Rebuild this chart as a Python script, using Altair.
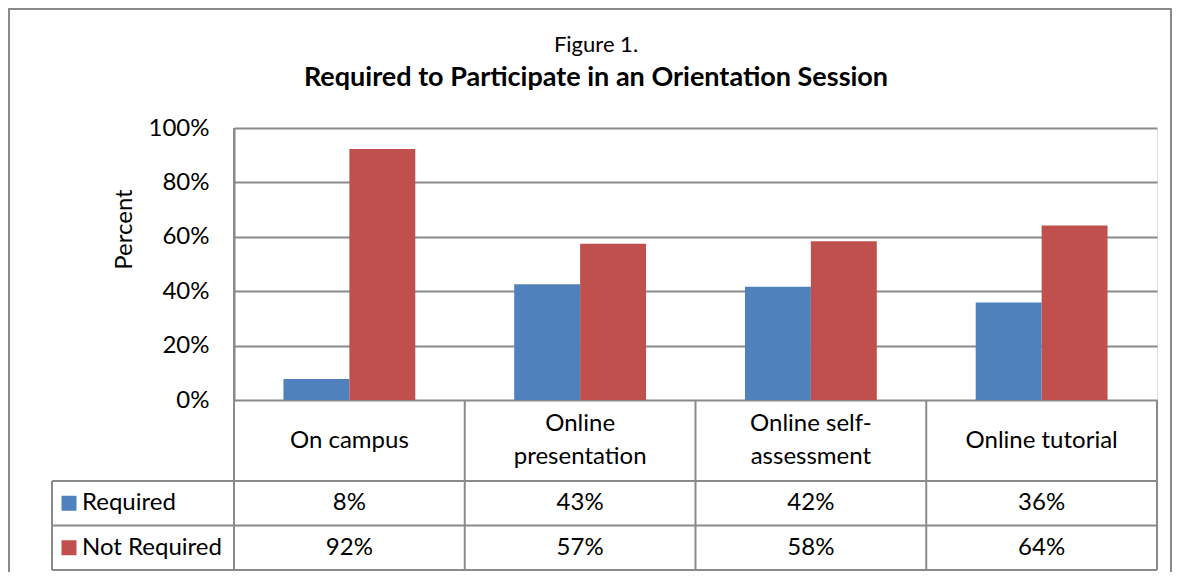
import altair as alt
import pandas as pd

# ---- data ----
categories = ["On campus", "Online presentation", "Online self-assessment", "Online tutorial"]
category_labels = ["On campus", "Online\npresentation", "Online self-\nassessment", "Online tutorial"]
series = ["Required", "Not Required"]
required = [0.077, 0.426, 0.416, 0.358]
not_required = [0.923, 0.574, 0.584, 0.642]
colors = ["#4F81BD", "#C0504D"]
y_ticks = [0, 0.2, 0.4, 0.6, 0.8, 1.0]
fig_label = "Figure 1."
title_text = "Required to Participate in an Orientation Session"
y_title = "Percent"

rows = []
for s, vals in zip(series, [required, not_required]):
    for c, v in zip(categories, vals):
        rows.append({"category": c, "series": s, "value": v})
df = pd.DataFrame(rows)
cat_df = pd.DataFrame({"category": categories, "label": category_labels})
cat_df["nlines"] = cat_df["label"].str.count("\n") + 1
one = pd.DataFrame({"k": [0]})

# ---- layout ----
W, H = 923, 272
FONT = "Lato"
FS = 24
LINE = "#8a8a8a"
LW = 2
HDR = 81            # category label row height below baseline
ROW = 44.5          # data row height
LH = 33
row_centers = [H + HDR + ROW / 2, H + HDR + ROW * 1.5]
TABLE_BOTTOM = H + HDR + 2 * ROW
LEFT_EDGE = -182

x_enc = alt.X("category:N", sort=categories,
              scale=alt.Scale(domain=categories, paddingInner=0, paddingOuter=0),
              axis=None)

frame = alt.Chart(one).mark_rect(fillOpacity=0, stroke=LINE, strokeWidth=LW).encode(
    x=alt.value(-225), x2=alt.value(937), y=alt.value(-119), y2=alt.value(470))

bars = alt.Chart(df).mark_bar().encode(
    x=x_enc,
    xOffset=alt.XOffset("series:N", sort=series,
                        scale=alt.Scale(domain=series, paddingInner=0, paddingOuter=0.75)),
    y=alt.Y("value:Q", scale=alt.Scale(domain=[0, 1]),
            axis=alt.Axis(values=y_ticks, format="%", title=y_title,
                          titleAngle=-90, titleX=-110, titleY=101,
                          titleBaseline="middle", titleAlign="center",
                          titleFont=FONT, titleFontSize=FS, titleFontWeight="normal",
                          titleColor="black",
                          labelFont=FONT, labelFontSize=FS, labelColor="black",
                          labelPadding=25, ticks=False,
                          grid=True, gridColor=LINE, gridWidth=LW,
                          domainColor=LINE, domainWidth=LW)),
    color=alt.Color("series:N", scale=alt.Scale(domain=series, range=colors), legend=None),
)

layers = [frame, bars]

for n in [1, 2]:
    layers.append(
        alt.Chart(cat_df).transform_filter(alt.datum.nlines == n).mark_text(
            lineBreak="\n", font=FONT, fontSize=FS, lineHeight=LH, baseline="middle",
            color="black", dy=-(n - 1) * LH / 2
        ).encode(x=alt.X("category:N", sort=categories), y=alt.value(H + HDR / 2),
                 text="label:N"))

for i, s in enumerate(series):
    layers.append(
        alt.Chart(df).transform_filter(alt.datum.series == s).mark_text(
            font=FONT, fontSize=FS, baseline="middle", color="black"
        ).encode(x=alt.X("category:N", sort=categories), y=alt.value(row_centers[i]),
                 text=alt.Text("value:Q", format=".0%")))
    sdf = pd.DataFrame({"series": [s]})
    layers.append(
        alt.Chart(sdf).mark_square(size=225, opacity=1).encode(
            x=alt.value(-165), y=alt.value(row_centers[i]),
            color=alt.Color("series:N", scale=alt.Scale(domain=series, range=colors), legend=None)))
    layers.append(
        alt.Chart(sdf).mark_text(font=FONT, fontSize=FS, align="left", baseline="middle",
                                 color="black").encode(
            x=alt.value(-152), y=alt.value(row_centers[i]), text="series:N"))

# table grid lines
for yy, x0 in [(H + HDR, LEFT_EDGE), (H + HDR + ROW, LEFT_EDGE), (TABLE_BOTTOM, LEFT_EDGE)]:
    layers.append(alt.Chart(one).mark_rule(color=LINE, strokeWidth=LW).encode(
        x=alt.value(x0), x2=alt.value(W), y=alt.value(yy)))
layers.append(alt.Chart(cat_df).mark_rule(color=LINE, strokeWidth=LW).encode(
    x=alt.X("category:N", sort=categories, bandPosition=0),
    y=alt.value(H), y2=alt.value(TABLE_BOTTOM)))
for xx, y0 in [(0, 0), (W, H), (LEFT_EDGE, H + HDR)]:
    layers.append(alt.Chart(one).mark_rule(color=LINE, strokeWidth=LW).encode(
        x=alt.value(xx), y=alt.value(y0), y2=alt.value(TABLE_BOTTOM)))

# titles
layers.append(alt.Chart(one).mark_text(font=FONT, fontSize=22, color="black", baseline="middle").encode(
    x=alt.value(362), y=alt.value(-83), text=alt.value(fig_label)))
layers.append(alt.Chart(one).mark_text(font=FONT, fontSize=27, fontWeight="bold", color="black",
                                       baseline="middle").encode(
    x=alt.value(362), y=alt.value(-50), text=alt.value(title_text)))

chart = alt.layer(*layers).properties(
    width=W, height=H,
    autosize=alt.AutoSizeParams(type="none"),
    padding={"left": 226, "top": 120, "right": 15, "bottom": 172},
).configure_view(stroke=None).configure(background="white")

chart.save("out.html", embed_options={"renderer": "svg", "actions": False})
